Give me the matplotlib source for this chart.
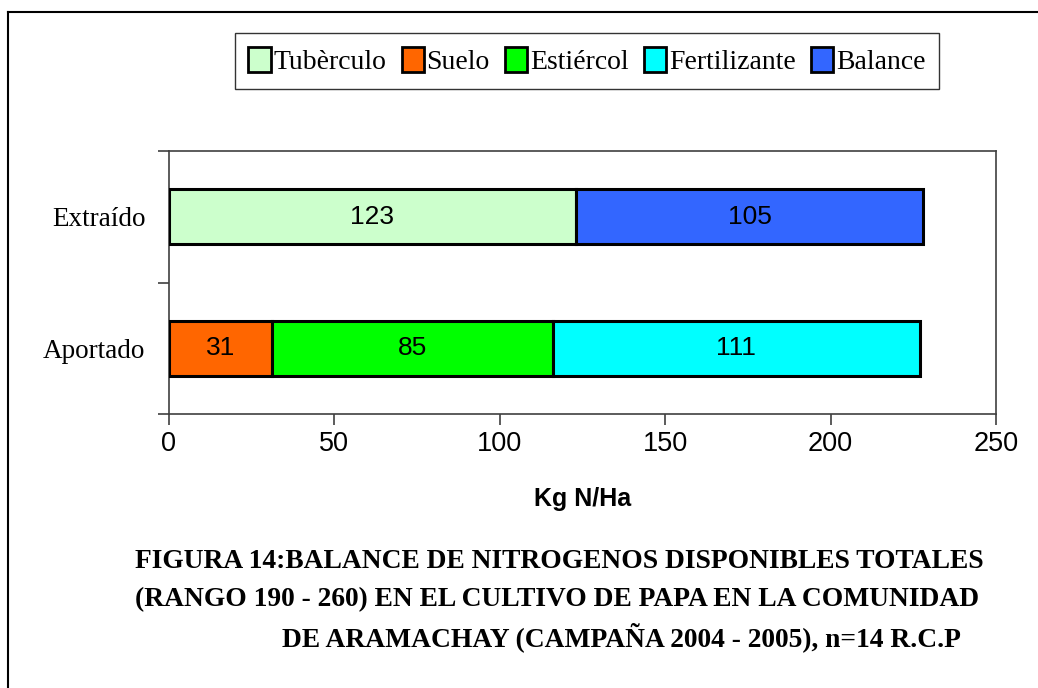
"""Balance de nitrógeno, cultivo de papa en Aramachay (barras horizontales apiladas)."""

import matplotlib

matplotlib.use("Agg")

import matplotlib.pyplot as plt
from matplotlib.lines import Line2D

# datos (Kg N/Ha)
categories = ["Aportado", "Extraído"]
series_names = ["Tubèrculo", "Suelo", "Estiércol", "Fertilizante", "Balance"]
tuberculo = [0, 123]
suelo = [31, 0]
estiercol = [85, 0]
fertilizante = [111, 0]
balance = [0, 105]
x_ticks = [0, 50, 100, 150, 200, 250]

series_values = [tuberculo, suelo, estiercol, fertilizante, balance]
colors = ["#CCFFCC", "#FF6600", "#00FF00", "#00FFFF", "#3366FF"]

SERIF = "Liberation Serif"
SANS = "Liberation Sans"
W, H = 1038, 688

fig = plt.figure(figsize=(W / 100, H / 100), dpi=100)
ax = fig.add_axes([169 / W, 1 - 414 / H, (996 - 169) / W, (414 - 151) / H])

ypos = list(range(len(categories)))
left = [0.0] * len(categories)
handles = []
for name, vals, col in zip(series_names, series_values, colors):
    for i, v in enumerate(vals):
        if v <= 0:
            continue
        ax.barh(ypos[i], v, left=left[i], height=0.42, color=col,
                edgecolor="black", linewidth=2.2, zorder=3)
        ax.text(left[i] + v / 2, ypos[i], f"{v}", ha="center", va="center",
                family=SANS, fontsize=19, zorder=4)
        left[i] += v
    handles.append(plt.Rectangle((0, 0), 1, 1, facecolor=col,
                                 edgecolor="black", linewidth=2))

ax.set_xlim(0, 250)
ax.set_ylim(-0.5, len(categories) - 0.5)
ax.set_xticks(x_ticks)
ax.set_xticklabels([str(t) for t in x_ticks], family=SANS, fontsize=19.5)
ax.tick_params(axis="x", length=8, width=1.2, color="#404040", pad=4)

# category labels at the centres, tick marks on the boundaries
ax.set_yticks(ypos)
ax.set_yticklabels(categories, family=SERIF, fontsize=19.5)
ax.tick_params(axis="y", which="major", length=0, pad=17)
ax.set_yticks([-0.5, 0.5, 1.5], minor=True)
ax.tick_params(axis="y", which="minor", length=8, width=1.2, color="#404040")

for sp in ax.spines.values():
    sp.set_color("#404040")
    sp.set_linewidth(1.2)

ax.set_xlabel("Kg N/Ha", family=SANS, fontsize=18, fontweight="bold", labelpad=22)

fig.legend(handles, series_names, loc="center", bbox_to_anchor=(587 / W, 1 - 61 / H),
           ncol=5, frameon=True, fancybox=False, edgecolor="black",
           prop={"family": SERIF, "size": 20}, handlelength=0.8, handleheight=1.0,
           handletextpad=0.1, columnspacing=0.55, borderpad=0.5, borderaxespad=0)

caption = [
    (135, 561, "FIGURA 14:BALANCE DE NITROGENOS DISPONIBLES TOTALES"),
    (135, 600, "(RANGO 190 - 260) EN EL CULTIVO DE PAPA EN LA COMUNIDAD"),
    (282, 637, "DE ARAMACHAY (CAMPAÑA 2004 - 2005), n=14 R.C.P"),
]
for x, y, line in caption:
    fig.text(x / W, 1 - y / H, line, ha="left", va="center", family=SERIF,
             fontsize=19.8, fontweight="bold")

# outer frame (only top and left edges are visible in the crop)
fig.add_artist(Line2D([8 / W, 8 / W], [0, 1 - 12 / H], color="black", lw=1.5))
fig.add_artist(Line2D([8 / W, 1], [1 - 12 / H, 1 - 12 / H], color="black", lw=1.5))

fig.savefig("out.png", dpi=100)
